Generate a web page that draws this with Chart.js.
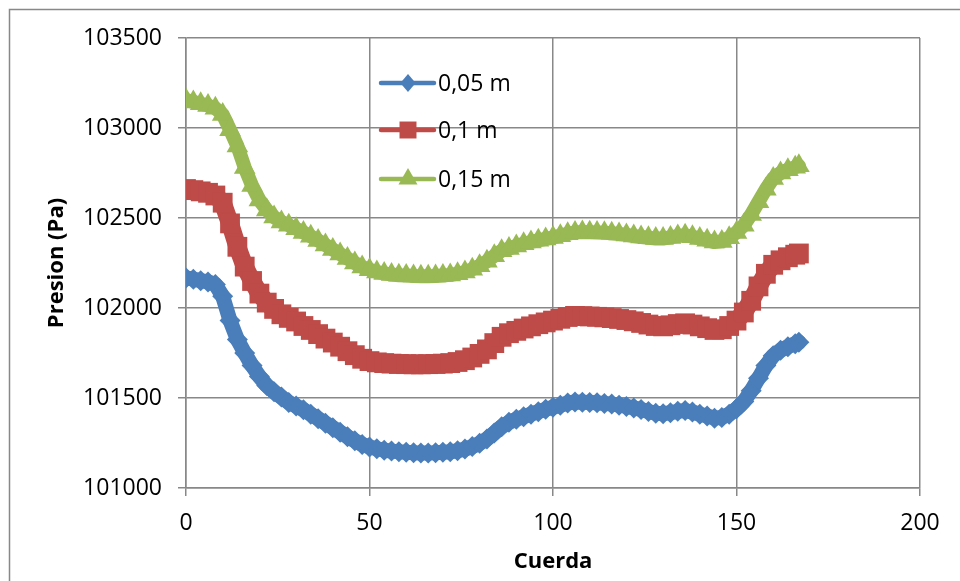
<!DOCTYPE html>
<html>
<head>
<meta charset="utf-8">
<script src="https://cdn.jsdelivr.net/npm/chart.js@4"></script>
<style>
  body { margin: 0; background: #fff; }
  canvas { display: block; }
</style>
</head>
<body>
<canvas id="chart" width="960" height="581"></canvas>
<script>
// Cuerda (x) positions
const cuerda = [0, 2, 4, 6, 8, 10, 12, 14, 16, 18, 20, 22, 24, 26, 28, 30, 32, 34, 36, 38,
    40, 42, 44, 46, 48, 50, 52, 54, 56, 58, 60, 62, 64, 66, 68, 70, 72, 74, 76, 78,
    80, 82, 84, 86, 88, 90, 92, 94, 96, 98, 100, 102, 104, 106, 108, 110, 112, 114, 116, 118,
    120, 122, 124, 126, 128, 130, 132, 134, 136, 138, 140, 142, 144, 146, 148, 150, 152, 154, 156, 158,
    160, 162, 164, 166, 167];

// Presion (Pa) for each height
const p005 = [102167, 102160, 102152, 102145, 102130, 102065, 101930, 101825, 101750, 101680,
    101620, 101570, 101535, 101505, 101475, 101455, 101435, 101410, 101385, 101360,
    101335, 101310, 101285, 101262, 101242, 101228, 101218, 101210, 101205, 101201,
    101198, 101196, 101195, 101195, 101196, 101198, 101201, 101207, 101216, 101230,
    101248, 101272, 101305, 101340, 101365, 101382, 101396, 101410, 101424, 101437,
    101448, 101460, 101472, 101478, 101477, 101475, 101473, 101470, 101466, 101460,
    101453, 101445, 101436, 101425, 101415, 101413, 101418, 101426, 101430, 101422,
    101410, 101400, 101388, 101392, 101410, 101440, 101480, 101540, 101610, 101680,
    101735, 101765, 101785, 101802, 101810];

const p01 = [102661, 102655, 102648, 102640, 102625, 102585, 102470, 102340, 102230, 102150,
    102080, 102030, 101995, 101965, 101945, 101925, 101900, 101878, 101855, 101830,
    101808, 101785, 101760, 101738, 101718, 101705, 101698, 101694, 101691, 101689,
    101688, 101687, 101687, 101688, 101689, 101691, 101694, 101700, 101710, 101725,
    101745, 101770, 101805, 101840, 101860, 101873, 101886, 101898, 101910, 101920,
    101930, 101940, 101950, 101956, 101955, 101953, 101951, 101948, 101944, 101939,
    101933, 101926, 101917, 101908, 101900, 101898, 101904, 101911, 101915, 101908,
    101898, 101888, 101878, 101882, 101900, 101930, 101975, 102040, 102120, 102190,
    102240, 102265, 102282, 102296, 102303];

const p015 = [103155, 103145, 103135, 103125, 103110, 103075, 102990, 102900, 102780, 102680,
    102600, 102545, 102505, 102478, 102460, 102440, 102420, 102398, 102375, 102350,
    102325, 102300, 102275, 102250, 102228, 102212, 102200, 102192, 102186, 102182,
    102180, 102178, 102177, 102177, 102178, 102180, 102184, 102190, 102200, 102215,
    102235, 102260, 102290, 102318, 102330, 102345, 102357, 102367, 102376, 102384,
    102392, 102402, 102412, 102420, 102422, 102421, 102420, 102418, 102415, 102411,
    102406, 102400, 102394, 102390, 102386, 102386, 102392, 102400, 102404, 102396,
    102386, 102376, 102366, 102370, 102390, 102420, 102460, 102520, 102590, 102660,
    102720, 102750, 102768, 102782, 102790];

const seriesNames = ['0,05 m', '0,1 m', '0,15 m'];
const xTicks = [0, 50, 100, 150, 200];
const yTicks = [101000, 101500, 102000, 102500, 103000, 103500];

const FONT = '"Open Sans", "Noto Sans", sans-serif';
const GRID = '#888888';

// band = width of the line under the markers (markers overlap into a thick band)
const styles = [
    { color: '#4A7EBB', point: 'rectRot', radius: 10.5, band: 15, legendR: 9 },
    { color: '#BE4B48', point: 'rect', radius: 14, band: 18, legendR: 12 },
    { color: '#98B954', point: 'triangle', radius: 12.5, band: 14, legendR: 11 }
];

function toPoints(ys) {
    return cuerda.map((x, i) => ({ x: x, y: ys[i] }));
}

function marker(ctx, type, x, y, r) {
    ctx.beginPath();
    if (type === 'rectRot') {
        ctx.moveTo(x, y - r);
        ctx.lineTo(x + r * 0.85, y);
        ctx.lineTo(x, y + r);
        ctx.lineTo(x - r * 0.85, y);
    } else if (type === 'rect') {
        const s = r * Math.SQRT1_2;
        ctx.rect(x - s, y - s, 2 * s, 2 * s);
    } else {
        ctx.moveTo(x, y - r);
        ctx.lineTo(x + r * 0.866, y + r * 0.5);
        ctx.lineTo(x - r * 0.866, y + r * 0.5);
    }
    ctx.closePath();
    ctx.fill();
}

// border, axis titles and the legend inside the plot
const decorations = {
    id: 'decorations',
    beforeDraw(chart) {
        const ctx = chart.ctx;
        ctx.save();
        ctx.strokeStyle = GRID;
        ctx.lineWidth = 1.5;
        ctx.strokeRect(9.5, 9.5, 1000, 1000);
        ctx.restore();
    },
    afterDraw(chart) {
        const ctx = chart.ctx;
        ctx.save();
        ctx.fillStyle = '#000';
        ctx.font = 'bold 22px ' + FONT;
        ctx.textAlign = 'center';
        ctx.textBaseline = 'middle';
        ctx.fillText('Cuerda', 553, 562);
        ctx.translate(57, 263);
        ctx.rotate(-Math.PI / 2);
        ctx.fillText('Presion (Pa)', 0, 0);
        ctx.restore();

        const rows = [83, 130, 179];
        ctx.save();
        seriesNames.forEach((name, i) => {
            const st = styles[i];
            const y = rows[i];
            ctx.strokeStyle = st.color;
            ctx.fillStyle = st.color;
            ctx.lineWidth = 4.5;
            ctx.lineCap = 'round';
            ctx.beginPath();
            ctx.moveTo(381, y);
            ctx.lineTo(434, y);
            ctx.stroke();
            marker(ctx, st.point, 408, y, st.legendR);
            ctx.fillStyle = '#000';
            ctx.font = '23px ' + FONT;
            ctx.textAlign = 'left';
            ctx.textBaseline = 'middle';
            ctx.fillText(name, 438, y + 1);
        });
        ctx.restore();
    }
};

new Chart(document.getElementById('chart'), {
    type: 'scatter',
    data: {
        datasets: [p005, p01, p015].map((ys, i) => ({
            label: seriesNames[i],
            data: toPoints(ys),
            showLine: true,
            borderColor: styles[i].color,
            backgroundColor: styles[i].color,
            borderWidth: styles[i].band,
            borderJoinStyle: 'round',
            borderCapStyle: 'round',
            pointStyle: styles[i].point,
            pointRadius: styles[i].radius,
            pointBorderWidth: 0,
            pointHoverRadius: styles[i].radius,
            order: 2 - i
        }))
    },
    options: {
        responsive: false,
        animation: false,
        devicePixelRatio: 1,
        layout: { padding: { top: 38, right: 40, left: 0, bottom: 0 } },
        plugins: {
            legend: { display: false },
            tooltip: { enabled: false }
        },
        scales: {
            x: {
                type: 'linear',
                min: 0,
                max: 200,
                afterBuildTicks: s => { s.ticks = xTicks.map(v => ({ value: v })); },
                afterFit: s => { s.height = 93; },
                ticks: {
                    color: '#000',
                    font: { family: FONT, size: 23 },
                    padding: 14,
                    maxRotation: 0
                },
                grid: { color: GRID, lineWidth: 1.5, tickLength: 8 },
                border: { color: GRID, width: 1.5 }
            },
            y: {
                min: 101000,
                max: 103500,
                afterBuildTicks: s => { s.ticks = yTicks.map(v => ({ value: v })); },
                afterFit: s => { s.width = 186; },
                ticks: {
                    color: '#000',
                    font: { family: FONT, size: 23 },
                    padding: 16,
                    callback: v => String(v)
                },
                grid: { color: GRID, lineWidth: 1.5, tickLength: 8 },
                border: { color: GRID, width: 1.5 }
            }
        }
    },
    plugins: [decorations]
});
</script>
</body>
</html>
